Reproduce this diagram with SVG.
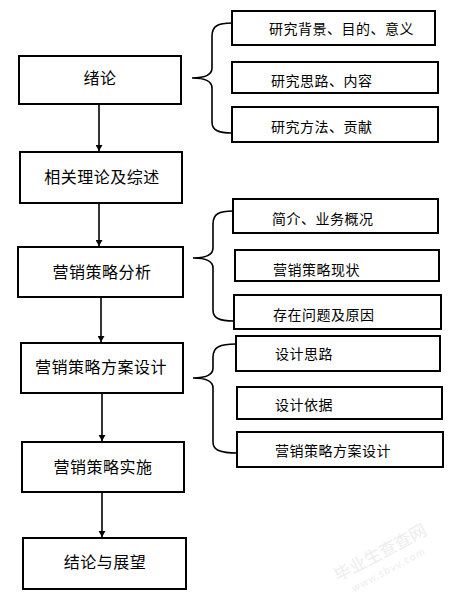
<svg xmlns="http://www.w3.org/2000/svg" width="456" height="596" viewBox="0 0 456 596">
<defs>
<style>
.box{fill:#fff;stroke:#000;stroke-width:2}
.main{font-family:"Noto Sans CJK SC","Liberation Sans",sans-serif;font-size:16px;letter-spacing:0.5px;fill:#000;text-anchor:middle}
.sub{font-family:"Noto Sans CJK SC","Liberation Sans",sans-serif;font-size:14px;letter-spacing:0.5px;fill:#000}
.brace{fill:none;stroke:#000;stroke-width:1.6}
.arrow{stroke:#000;stroke-width:1.6;fill:none}
.wm{font-family:"Noto Sans CJK SC",sans-serif;fill:#ededed}
</style>
<marker id="ah" markerWidth="6" markerHeight="7" refX="6" refY="3.5" orient="auto" markerUnits="userSpaceOnUse">
<path d="M0,0 L6,3.5 L0,7 Z" fill="#000"/>
</marker>
</defs>
<rect width="456" height="596" fill="#fff"/>

<g id="connectors">
<line class="arrow" x1="99" y1="104" x2="99" y2="151" marker-end="url(#ah)"/>
<line class="arrow" x1="99" y1="203" x2="99" y2="246" marker-end="url(#ah)"/>
<line class="arrow" x1="101" y1="297" x2="101" y2="342" marker-end="url(#ah)"/>
<line class="arrow" x1="102" y1="393" x2="102" y2="441" marker-end="url(#ah)"/>
<line class="arrow" x1="102" y1="492" x2="102" y2="537" marker-end="url(#ah)"/>
<path class="brace" d="M232,23 C218,23 212,26 212,36 L212,68 C212,75 204,78 192,78 C204,78 212,81 212,88 L212,122 C212,130 218,133 232,133"/>
<path class="brace" d="M233,211 C219,211 213,214 213,224 L213,248 C213,255 205,258 193,258 C205,258 213,261 213,268 L213,310 C213,318 219,321 234,321"/>
<path class="brace" d="M236,344 C220,344 213,347 213,357 L213,368 C213,375 205,378 193,378 C205,378 213,381 213,388 L213,442 C213,450 220,453 237,453"/>
</g>

<g id="n1"><rect class="box" x="19" y="56" width="162" height="48"/><text class="main" x="100" y="84">绪论</text></g>
<g id="n2"><rect class="box" x="20" y="152" width="162" height="51"/><text class="main" x="102" y="183">相关理论及综述</text></g>
<g id="n3"><rect class="box" x="18" y="247" width="165" height="50"/><text class="main" x="102" y="278">营销策略分析</text></g>
<g id="n4"><rect class="box" x="21" y="343" width="162" height="50"/><text class="main" x="101" y="373">营销策略方案设计</text></g>
<g id="n5"><rect class="box" x="22" y="442" width="162" height="50"/><text class="main" x="103" y="473">营销策略实施</text></g>
<g id="n6"><rect class="box" x="23" y="538" width="163" height="51"/><text class="main" x="105" y="568">结论与展望</text></g>

<g id="s1"><rect class="box" x="232" y="11" width="203" height="34"/><text class="sub" x="269" y="34">研究背景、目的、意义</text></g>
<g id="s2"><rect class="box" x="232" y="62" width="206" height="31"/><text class="sub" x="271" y="86">研究思路、内容</text></g>
<g id="s3"><rect class="box" x="232" y="107" width="206" height="35"/><text class="sub" x="271" y="132">研究方法、贡献</text></g>
<g id="s4"><rect class="box" x="233" y="199" width="205" height="34"/><text class="sub" x="272" y="224">简介、业务概况</text></g>
<g id="s5"><rect class="box" x="235" y="250" width="204" height="31"/><text class="sub" x="273" y="275">营销策略现状</text></g>
<g id="s6"><rect class="box" x="234" y="295" width="207" height="34"/><text class="sub" x="273" y="320">存在问题及原因</text></g>
<g id="s7"><rect class="box" x="236" y="336" width="204" height="35"/><text class="sub" x="275" y="359">设计思路</text></g>
<g id="s8"><rect class="box" x="237" y="387" width="205" height="32"/><text class="sub" x="275" y="410">设计依据</text></g>
<g id="s9"><rect class="box" x="237" y="432" width="206" height="35"/><text class="sub" x="275" y="456">营销策略方案设计</text></g>

<g id="watermark">
<text class="wm" font-size="17" transform="translate(338,582) rotate(-28)">毕业生查查网</text>
<text class="wm" font-size="10" letter-spacing="1" transform="translate(354,592) rotate(-28)">www.sbvv.com</text>
</g>
</svg>
